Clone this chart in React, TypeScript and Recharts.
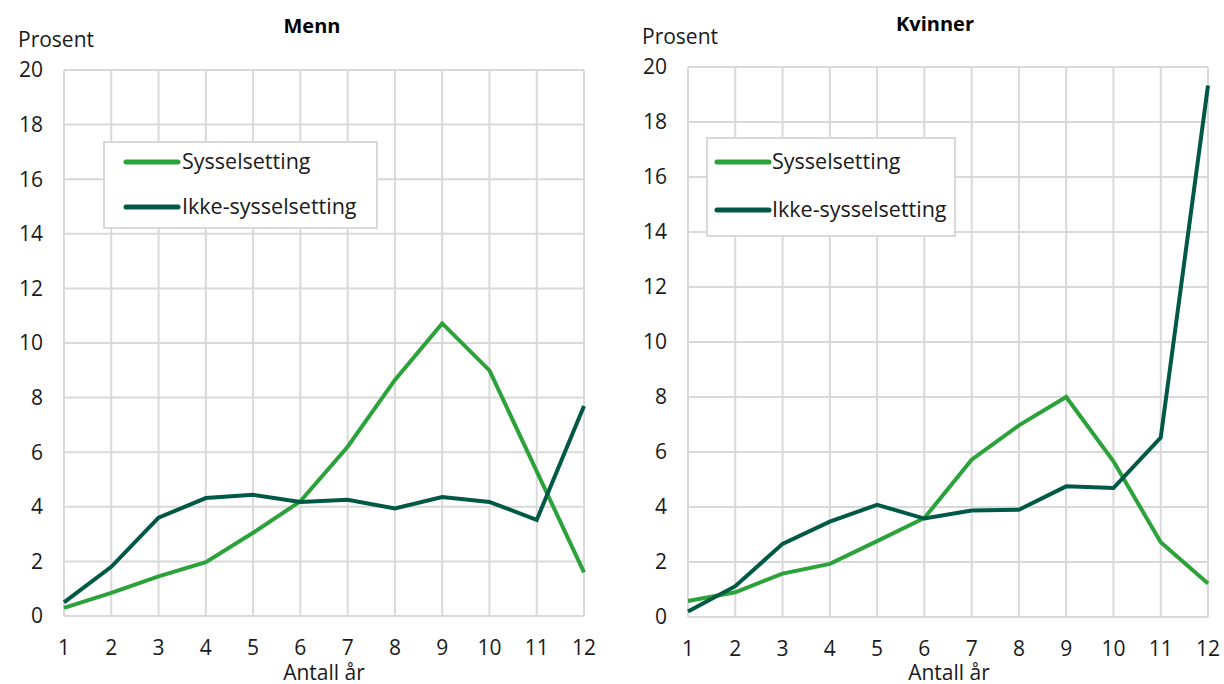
import React from "react";
import { LineChart, Line, XAxis, YAxis, CartesianGrid } from "recharts";

const years = ["1", "2", "3", "4", "5", "6", "7", "8", "9", "10", "11", "12"];
const menSyssel = [0.3, 0.85, 1.45, 1.97, 3.05, 4.2, 6.2, 8.65, 10.72, 9.0, 5.3, 1.6];
const menIkke = [0.5, 1.8, 3.6, 4.32, 4.44, 4.18, 4.26, 3.94, 4.36, 4.18, 3.52, 7.69];
const womenSyssel = [0.58, 0.9, 1.58, 1.93, 2.76, 3.6, 5.72, 6.97, 8.0, 5.66, 2.72, 1.22];
const womenIkke = [0.2, 1.12, 2.66, 3.47, 4.08, 3.58, 3.87, 3.9, 4.75, 4.69, 6.52, 19.33];
const yTicks = [0, 2, 4, 6, 8, 10, 12, 14, 16, 18, 20];
const seriesNames = ["Sysselsetting", "Ikke-sysselsetting"];

const GREEN = "#2ba23a";
const DARK = "#005944";
const GRID = "#d9d9d9";
const FONT = "'Open Sans', sans-serif";
const FS = 21;

const menData = years.map((y, i) => ({ year: y, s: menSyssel[i], i: menIkke[i] }));
const womenData = years.map((y, i) => ({ year: y, s: womenSyssel[i], i: womenIkke[i] }));

function Panel({ data, left, top, plotH }: { data: any[]; left: number; top: number; plotH: number }) {
  return (
    <div style={{ position: "absolute", left, top: 0 }}>
      <LineChart
        width={600}
        height={684}
        data={data}
        margin={{ top, right: 16, bottom: 0, left: 0 }}
      >
        <CartesianGrid stroke={GRID} strokeWidth={2} vertical horizontal />
        <XAxis
          dataKey="year"
          axisLine={false}
          tickLine={false}
          tickSize={0}
          tickMargin={24}
          height={684 - top - plotH}
          interval={0}
          tick={{ fill: "#1a1a1a", fontSize: FS, fontFamily: FONT }}
        />
        <YAxis
          type="number"
          domain={[0, 20]}
          ticks={yTicks}
          axisLine={false}
          tickLine={false}
          tickSize={0}
          tickMargin={21}
          width={64}
          interval={0}
          tick={{ fill: "#1a1a1a", fontSize: FS, fontFamily: FONT }}
        />
        <Line dataKey="s" stroke={GREEN} strokeWidth={4} dot={false} isAnimationActive={false} />
        <Line dataKey="i" stroke={DARK} strokeWidth={4} dot={false} isAnimationActive={false} />
      </LineChart>
    </div>
  );
}

function LegendBox({ x, y, w, h, lx1, lx2, ly1, ly2, tx }: any) {
  return (
    <g>
      <rect x={x} y={y} width={w} height={h} fill="#fff" stroke={GRID} strokeWidth={2} />
      <line x1={lx1} x2={lx2} y1={ly1} y2={ly1} stroke={GREEN} strokeWidth={5} strokeLinecap="round" />
      <line x1={lx1} x2={lx2} y1={ly2} y2={ly2} stroke={DARK} strokeWidth={5} strokeLinecap="round" />
      <text x={tx} y={ly1 + 7} fontSize={FS + 0.5} fontFamily={FONT} fill="#1a1a1a">{seriesNames[0]}</text>
      <text x={tx} y={ly2 + 7} fontSize={FS + 0.5} fontFamily={FONT} fill="#1a1a1a">{seriesNames[1]}</text>
    </g>
  );
}

export default function App() {
  return (
    <div style={{ position: "absolute", left: 0, top: 0, width: 1224, height: 684, background: "#fff", overflow: "hidden" }}>
      <Panel data={menData} left={0} top={70} plotH={546} />
      <Panel data={womenData} left={624} top={67} plotH={550} />
      <svg width={1224} height={684} style={{ position: "absolute", left: 0, top: 0, pointerEvents: "none" }}>
        <text x={312} y={33} textAnchor="middle" fontSize={20} fontWeight="bold" fontFamily={FONT} fill="#000">Menn</text>
        <text x={935} y={31} textAnchor="middle" fontSize={20} fontWeight="bold" fontFamily={FONT} fill="#000">Kvinner</text>
        <text x={18} y={47} fontSize={FS} fontFamily={FONT} fill="#1a1a1a">Prosent</text>
        <text x={642} y={44} fontSize={FS} fontFamily={FONT} fill="#1a1a1a">Prosent</text>
        <text x={324} y={680} textAnchor="middle" fontSize={FS} fontFamily={FONT} fill="#1a1a1a">Antall år</text>
        <text x={949} y={680} textAnchor="middle" fontSize={FS} fontFamily={FONT} fill="#1a1a1a">Antall år</text>
        <LegendBox x={104} y={142} w={273} h={86} lx1={126} lx2={178} ly1={162} ly2={207} tx={182} />
        <LegendBox x={707} y={138} w={248} h={98} lx1={717} lx2={769} ly1={162} ly2={210} tx={772} />
      </svg>
    </div>
  );
}
